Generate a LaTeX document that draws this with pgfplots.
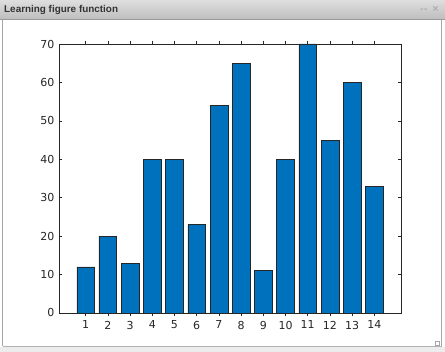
\documentclass[border=0pt]{standalone}
\usepackage{fontspec}
\setmainfont{DejaVu Sans}
\newfontfamily\titlefont{Liberation Sans}
\usepackage{pgfplots}
\pgfplotsset{compat=1.18}
\definecolor{mblue}{RGB}{0,114,189}
\definecolor{axgray}{RGB}{38,38,38}
\definecolor{barTop}{RGB}{222,222,222}
\definecolor{barBot}{RGB}{190,190,190}
\begin{document}
\begin{tikzpicture}[x=1pt,y=1pt]
\useasboundingbox (0,0) rectangle (445,352);
% window background
\fill[white] (0,0) rectangle (445,352);
\fill[gray!15] (0,0) rectangle (445,5);
\draw[gray!70,line width=0.8pt] (2.5,5.5) -- (2.5,333) ;
\draw[gray!70,line width=0.8pt] (441.5,5.5) -- (441.5,333);
\draw[gray!60,line width=0.8pt] (2.5,5.5) -- (441.5,5.5);
% title bar
\shade[top color=barTop,bottom color=barBot] (0,333) rectangle (445,352);
\draw[gray!80,line width=0.6pt] (0,333) -- (445,333);
\node[anchor=west,inner sep=0pt,text=black!80] at (4,342.5) {\titlefont\fontsize{9.9}{11}\selectfont\bfseries Learning figure function};
\node[anchor=east,inner sep=0pt,text=gray!75] at (439,342.5) {\titlefont\fontsize{11}{12}\selectfont -- \,\texttimes};
\draw[gray!70] (435,7) rectangle (439,11);
\begin{axis}[
  at={(59pt,39pt)}, anchor=south west,
  scale only axis, width=342pt, height=269pt,
  xmin=-0.2, xmax=15.2, ymin=0, ymax=70,
  xtick={1,...,14}, ytick={0,10,...,70},
  tick align=inside, xtick pos=both, ytick pos=both,
  major tick length=3.4pt,
  axis line style={axgray,line width=0.6pt},
  every tick/.style={axgray,line width=0.5pt},
  tick label style={font=\fontsize{11}{12}\selectfont, text=axgray},
  /pgf/number format/assume math mode=true,
  xticklabel style={yshift=-1pt},
  yticklabel style={xshift=-1pt},
  ybar, bar width=0.8,
]
\addplot[fill=mblue, draw=black!85, line width=0.5pt] coordinates {
(1,12) (2,20) (3,13) (4,40) (5,40) (6,23) (7,54) (8,65) (9,11) (10,40) (11,70) (12,45) (13,60) (14,33)
};
\end{axis}
\end{tikzpicture}
\end{document}
